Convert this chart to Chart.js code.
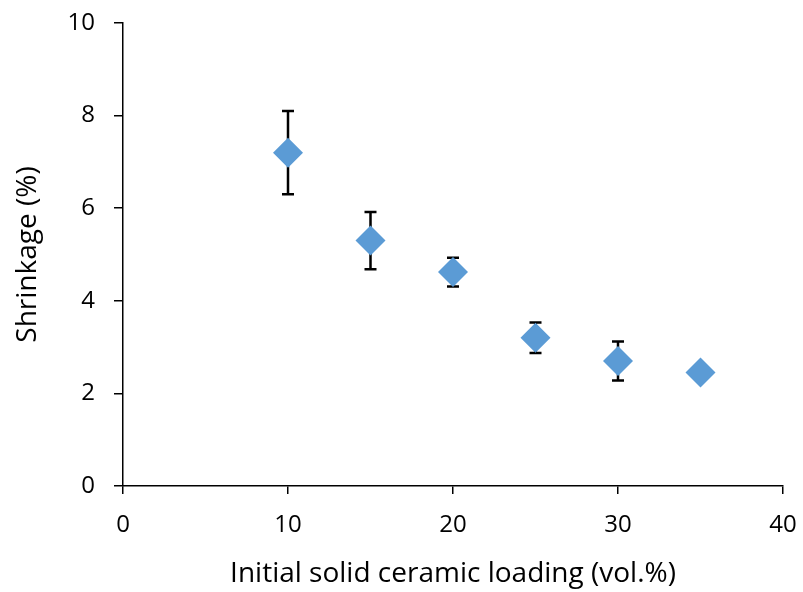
<!DOCTYPE html>
<html>
<head>
<meta charset="utf-8">
<script src="https://cdn.jsdelivr.net/npm/chart.js@4/dist/chart.umd.min.js"></script>
<style>
  html, body { margin: 0; padding: 0; background: #fff; }
  #wrap { width: 803px; height: 592px; }
</style>
</head>
<body>
<div id="wrap"><canvas id="grafico" width="803" height="592"></canvas></div>
<script>
// datos
const carga = [10, 15, 20, 25, 30, 35];           // vol.%
const contraccion = [7.2, 5.3, 4.62, 3.2, 2.7, 2.45]; // %
const error = [0.9, 0.62, 0.31, 0.33, 0.42, 0];
const ticksX = [0, 10, 20, 30, 40];
const ticksY = [0, 2, 4, 6, 8, 10];

const fuente = "'Open Sans', sans-serif";

// barras de error dibujadas detrás de los marcadores
const barrasError = {
  id: 'barrasError',
  beforeDatasetsDraw(chart) {
    const ctx = chart.ctx;
    const x = chart.scales.x, y = chart.scales.y;
    ctx.save();
    ctx.strokeStyle = '#000';
    ctx.lineWidth = 2.5;
    carga.forEach((v, i) => {
      if (!error[i]) return;
      const px = x.getPixelForValue(v);
      const top = y.getPixelForValue(contraccion[i] + error[i]);
      const bot = y.getPixelForValue(contraccion[i] - error[i]);
      ctx.beginPath();
      ctx.moveTo(px, top); ctx.lineTo(px, bot);
      ctx.moveTo(px - 6, top); ctx.lineTo(px + 6, top);
      ctx.moveTo(px - 6, bot); ctx.lineTo(px + 6, bot);
      ctx.stroke();
    });
    ctx.restore();
  }
};

new Chart(document.getElementById('grafico'), {
  type: 'scatter',
  data: {
    datasets: [{
      data: carga.map((v, i) => ({ x: v, y: contraccion[i] })),
      pointStyle: 'rectRot',
      pointRadius: 15,
      pointHoverRadius: 15,
      backgroundColor: '#5b9bd5',
      borderColor: '#5b9bd5',
      borderWidth: 0
    }]
  },
  options: {
    responsive: false,
    animation: false,
    layout: { padding: 0 },
    plugins: { legend: { display: false }, tooltip: { enabled: false } },
    scales: {
      x: {
        type: 'linear',
        min: 0, max: 40,
        afterBuildTicks: s => { s.ticks = ticksX.map(v => ({ value: v })); },
        afterFit: s => { s.height = 106; s.paddingLeft = 0; s.paddingRight = 20; },
        border: { color: '#000', width: 1.5 },
        grid: { drawOnChartArea: false, drawTicks: true, tickLength: 8, color: '#000', lineWidth: 1.5 },
        ticks: { color: '#000', font: { family: fuente, size: 24 }, padding: 17 },
        title: { display: true, text: 'Initial solid ceramic loading (vol.%)', color: '#000',
                 font: { family: fuente, size: 28 }, padding: { top: 0, bottom: 1 } }
      },
      y: {
        min: 0, max: 10,
        afterBuildTicks: s => { s.ticks = ticksY.map(v => ({ value: v })); },
        afterFit: s => { s.width = 123; s.paddingTop = 23; s.paddingBottom = 0; },
        border: { color: '#000', width: 1.5 },
        grid: { drawOnChartArea: false, drawTicks: true, tickLength: 9, color: '#000', lineWidth: 1.5 },
        ticks: { color: '#000', font: { family: fuente, size: 24 }, padding: 19 },
        title: { display: true, text: 'Shrinkage (%)', color: '#000',
                 font: { family: fuente, size: 28 }, padding: { top: 11, bottom: 0 } }
      }
    }
  },
  plugins: [barrasError]
});
</script>
</body>
</html>
